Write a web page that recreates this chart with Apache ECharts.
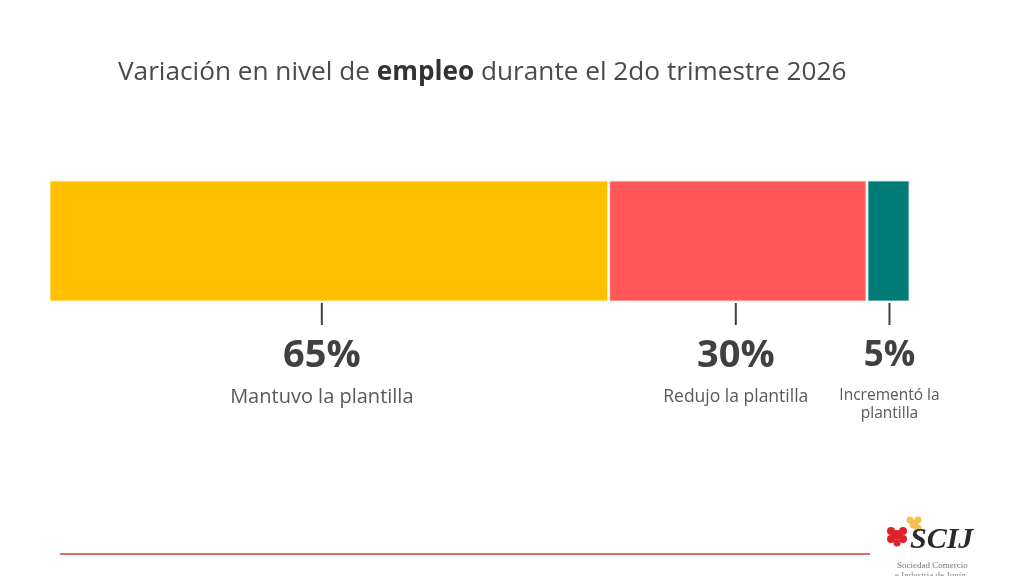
<!DOCTYPE html>
<html>
<head>
<meta charset="utf-8">
<script src="https://cdn.jsdelivr.net/npm/echarts@6/dist/echarts.min.js"></script>
<style>
html,body{margin:0;padding:0;background:#ffffff;}
#chart{width:1024px;height:576px;}
</style>
</head>
<body>
<div id="chart"></div>
<script>
const categories = ['Empleo'];
const seriesNames = ['Mantuvo la plantilla', 'Redujo la plantilla', 'Incrementó la\nplantilla'];
const seriesValues = [65, 30, 5];
const seriesColors = ['#FFC000', '#FF5757', '#017B77'];
const valueLabels = ['65%', '30%', '5%'];

const chart = echarts.init(document.getElementById('chart'), null, {renderer: 'canvas'});
const font = '"Open Sans", "Noto Sans", sans-serif';

const labelOffsets = [[-7, 0], [-2, 0], [1, 0]];
const pctSizes = [38, 38, 35];
const subSizes = [20, 17.5, 15.5];
const subLH = [20, 20, 18];

const series = seriesValues.map((v, i) => ({
  name: seriesNames[i],
  type: 'bar',
  stack: 'total',
  barWidth: '100%',
  data: [v],
  itemStyle: {color: seriesColors[i], borderColor: 'rgba(255,255,255,0.75)', borderWidth: 1.5},
  label: {
    show: true,
    position: 'bottom',
    distance: 1,
    offset: labelOffsets[i],
    align: 'center',
    formatter: () => '{tick|}\n{pct|' + valueLabels[i] + '}\n' +
      seriesNames[i].split('\n').map(s => '{sub|' + s + '}').join('\n'),
    rich: {
      tick: {width: 2, height: 22, lineHeight: 22, backgroundColor: '#404040'},
      pct: {fontFamily: font, fontSize: pctSizes[i], fontWeight: 'bold', color: '#404040', lineHeight: 62, align: 'center'},
      sub: {fontFamily: font, fontSize: subSizes[i], fontWeight: 'normal', color: '#595959', lineHeight: subLH[i], align: 'center'}
    }
  }
}));

chart.setOption({
  backgroundColor: '#ffffff',
  animation: false,
  title: {
    text: '{a|Variación en nivel de }{b|empleo}{a| durante el 2do trimestre 2026}',
    left: 113,
    top: 52,
    textStyle: {
      fontWeight: 'normal',
      rich: {
        a: {fontFamily: font, fontSize: 26.2, fontWeight: 'normal', color: '#4a4a4a', lineHeight: 32},
        b: {fontFamily: font, fontSize: 26.2, fontWeight: 'bold', color: '#333333', lineHeight: 32}
      }
    }
  },
  grid: {left: 49, right: 114, top: 180, height: 122, containLabel: false},
  xAxis: {type: 'value', min: 0, max: 100, show: false},
  yAxis: {type: 'category', data: categories, show: false},
  series: series,
  graphic: [
    {type: 'line', shape: {x1: 60, y1: 554, x2: 870, y2: 554}, style: {stroke: '#E06A6A', lineWidth: 2}},
    {type: 'group', children: [
      {type: 'circle', shape: {cx: 897, cy: 535, r: 5}, style: {fill: '#E0202A'}},
      {type: 'circle', shape: {cx: 903, cy: 531, r: 4}, style: {fill: '#E0202A'}},
      {type: 'circle', shape: {cx: 891, cy: 531, r: 4}, style: {fill: '#E0202A'}},
      {type: 'circle', shape: {cx: 891, cy: 539, r: 4}, style: {fill: '#E0202A'}},
      {type: 'circle', shape: {cx: 903, cy: 539, r: 4}, style: {fill: '#E0202A'}},
      {type: 'circle', shape: {cx: 897, cy: 543, r: 3.5}, style: {fill: '#E0202A'}},
      {type: 'circle', shape: {cx: 914, cy: 524, r: 4.5}, style: {fill: '#F2C14E'}},
      {type: 'circle', shape: {cx: 918, cy: 520, r: 3.5}, style: {fill: '#F2C14E'}},
      {type: 'circle', shape: {cx: 910, cy: 520, r: 3.5}, style: {fill: '#F2C14E'}},
      {type: 'circle', shape: {cx: 918, cy: 528, r: 3.5}, style: {fill: '#F2C14E'}},
      {type: 'text', left: 910, top: 525, style: {text: 'SCIJ', fill: '#2a2a2a', font: 'italic bold 30px "Liberation Serif", "DejaVu Serif", serif'}},
      {type: 'text', left: 897, top: 561, style: {text: 'Sociedad Comercio', fill: '#777777', font: '9px "Liberation Serif", serif'}},
      {type: 'text', left: 895, top: 571, style: {text: 'e Industria de Junín', fill: '#888888', font: '9px "Liberation Serif", serif'}}
    ]}
  ]
});
</script>
</body>
</html>
